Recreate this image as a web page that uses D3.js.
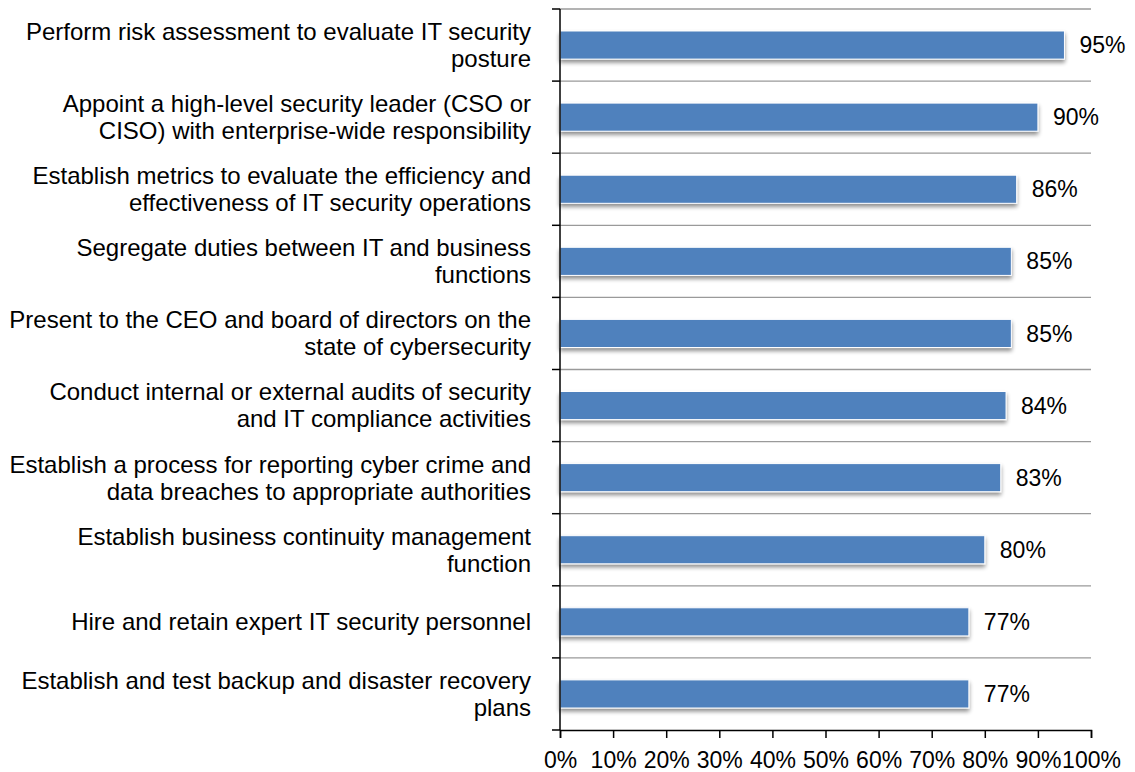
<!DOCTYPE html>
<html>
<head>
<meta charset="utf-8">
<script src="https://cdn.jsdelivr.net/npm/d3@7/dist/d3.min.js"></script>
<style>
  body { margin: 0; background: #fff; }
  svg { display: block; font-family: Arial, "Liberation Sans", sans-serif; }
</style>
</head>
<body>
<svg id="chart" width="1135" height="772"></svg>
<script>
// Survey items (top to bottom) and share of respondents
const categories = [
  "Perform risk assessment to evaluate IT security\nposture",
  "Appoint a high-level security leader (CSO or\nCISO) with enterprise-wide responsibility",
  "Establish metrics to evaluate the efficiency and\neffectiveness of IT security operations",
  "Segregate duties between IT and business\nfunctions",
  "Present to the CEO and board of directors on the\nstate of cybersecurity",
  "Conduct internal or external audits of security\nand IT compliance activities",
  "Establish a process for reporting cyber crime and\ndata breaches to appropriate authorities",
  "Establish business continuity management\nfunction",
  "Hire and retain expert IT security personnel",
  "Establish and test backup and disaster recovery\nplans"
];
const values = [95, 90, 86, 85, 85, 84, 83, 80, 77, 77];
const xTicks = [0, 10, 20, 30, 40, 50, 60, 70, 80, 90, 100];

const margin = { top: 9, left: 560, right: 44, bottom: 42 };
const W = 1135, H = 772;
const innerW = W - margin.left - margin.right;
const innerH = H - margin.top - margin.bottom;

const svg = d3.select("#chart");

const defs = svg.append("defs");
const shadow = defs.append("filter").attr("id", "barShadow")
  .attr("x", "-5%").attr("y", "-30%").attr("width", "110%").attr("height", "180%");
shadow.append("feGaussianBlur").attr("in", "SourceAlpha").attr("stdDeviation", 2.2).attr("result", "b");
shadow.append("feOffset").attr("in", "b").attr("dx", 0).attr("dy", 3).attr("result", "o");
shadow.append("feComponentTransfer").attr("in", "o").attr("result", "s")
  .append("feFuncA").attr("type", "linear").attr("slope", 0.45);
const merge = shadow.append("feMerge");
merge.append("feMergeNode").attr("in", "s");
merge.append("feMergeNode").attr("in", "SourceGraphic");

const g = svg.append("g").attr("transform", `translate(${margin.left},${margin.top})`);

const x = d3.scaleLinear().domain([0, 100]).range([0, innerW]);
const y = d3.scaleBand().domain(categories).range([0, innerH]).paddingInner(0.61).paddingOuter(0.305);

// band boundaries for gridlines and category ticks
const step = y.step();
const bounds = d3.range(categories.length + 1).map(i => y(categories[0]) - y.paddingOuter() * step + i * step);

g.selectAll("line.grid").data(bounds.slice(0, -1)).join("line")
  .attr("class", "grid")
  .attr("x1", 0).attr("x2", innerW)
  .attr("y1", d => d).attr("y2", d => d)
  .attr("stroke", "#9a9a9a").attr("stroke-width", 1.3);

// bars
g.selectAll("rect.bar").data(values).join("rect")
  .attr("class", "bar")
  .attr("x", 0)
  .attr("y", (d, i) => y(categories[i]))
  .attr("width", d => x(d))
  .attr("height", y.bandwidth())
  .attr("fill", "#4F81BD")
  .attr("stroke", "#ffffff").attr("stroke-width", 1)
  .attr("filter", "url(#barShadow)");

// value labels
g.selectAll("text.val").data(values).join("text")
  .attr("class", "val")
  .attr("x", d => x(d) + 15)
  .attr("y", (d, i) => y(categories[i]) + y.bandwidth() / 2)
  .attr("dy", "0.35em")
  .attr("font-size", 23)
  .attr("fill", "#000")
  .text(d => d + "%");

// category axis
g.append("line").attr("x1", 0).attr("x2", 0).attr("y1", 0).attr("y2", innerH)
  .attr("stroke", "#000").attr("stroke-width", 1.5);
g.selectAll("line.ytick").data(bounds).join("line")
  .attr("class", "ytick")
  .attr("x1", -8).attr("x2", 0)
  .attr("y1", d => d).attr("y2", d => d)
  .attr("stroke", "#000").attr("stroke-width", 1.5);

const lineH = 27;
g.selectAll("text.cat").data(categories).join("text")
  .attr("class", "cat")
  .attr("text-anchor", "end")
  .attr("font-size", 24)
  .attr("fill", "#000")
  .each(function (d) {
    const lines = d.split("\n");
    const cy = y(d) + y.bandwidth() / 2;
    const t = d3.select(this);
    lines.forEach((ln, k) => {
      t.append("tspan")
        .attr("x", -29)
        .attr("y", cy + (k - (lines.length - 1) / 2) * lineH)
        .attr("dy", "0.35em")
        .text(ln);
    });
  });

// value axis
const xAxis = d3.axisBottom(x).tickValues(xTicks).tickFormat(d => d + "%").tickSize(8).tickPadding(14);
const ax = g.append("g").attr("transform", `translate(0,${innerH})`).call(xAxis);
ax.select(".domain").attr("stroke", "#000").attr("stroke-width", 1.5);
ax.selectAll(".tick line").attr("stroke", "#000").attr("stroke-width", 1.5);
ax.selectAll(".tick text").attr("font-size", 23).attr("fill", "#000")
  .attr("font-family", "Arial, 'Liberation Sans', sans-serif");
</script>
</body>
</html>
